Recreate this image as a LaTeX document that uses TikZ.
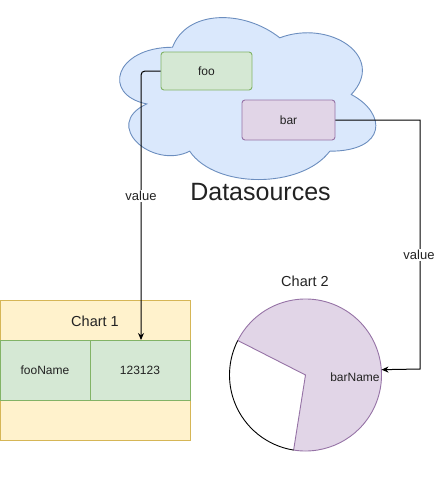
\documentclass[tikz,border=0pt]{standalone}
\usepackage{fontspec}
\setmainfont{Liberation Sans}
\usetikzlibrary{arrows.meta}
\definecolor{cloudfill}{HTML}{DAE8FC}
\definecolor{cloudline}{HTML}{6C8EBF}
\definecolor{gfill}{HTML}{D5E8D4}
\definecolor{gline}{HTML}{82B366}
\definecolor{pfill}{HTML}{E1D5E7}
\definecolor{pline}{HTML}{9673A6}
\definecolor{yfill}{HTML}{FFF2CC}
\definecolor{yline}{HTML}{D6B656}
\definecolor{txt}{HTML}{222222}
\tikzset{
  gbox/.style={draw=gline, fill=gfill, rounded corners=3pt, line width=0.9pt, inner sep=0pt, font=\fontsize{12}{14}\selectfont, text=txt},
  pbox/.style={draw=pline, fill=pfill, rounded corners=3pt, line width=0.9pt, inner sep=0pt, font=\fontsize{12}{14}\selectfont, text=txt},
  cell/.style={draw=gline, fill=gfill, line width=0.9pt, inner sep=0pt, minimum height=60pt, font=\fontsize{12}{14}\selectfont, text=txt},
  lbl/.style={font=\fontsize{12}{14}\selectfont, text=txt, inner sep=1pt},
  conn/.style={line width=1pt, -{Stealth[length=7pt,width=6pt]}},
  edgelbl/.style={fill=white, font=\fontsize{13}{15}\selectfont, text=txt, inner sep=1pt},
}
\begin{document}
\begin{tikzpicture}[x=1pt,y=-1pt]
\useasboundingbox (0,0) rectangle (435,483);
% cloud
\draw[fill=cloudfill, draw=cloudline, line width=0.9pt]
  (172.5,47.25)
  .. controls (115.3,47.25) and (101,94.5) .. (146.76,103.95)
  .. controls (101,124.74) and (152.48,170.1) .. (189.66,151.2)
  .. controls (215.4,189) and (301.2,189) .. (329.8,151.2)
  .. controls (387,151.2) and (387,113.4) .. (351.25,94.5)
  .. controls (387,56.7) and (329.8,18.9) .. (279.75,37.8)
  .. controls (244,9.45) and (186.8,9.45) .. (172.5,47.25) -- cycle;
\node[font=\fontsize{25}{28}\selectfont, text=txt] (ds) at (260.5,192) {Datasources};
\node[gbox, minimum width=91pt, minimum height=38pt] (foo) at (206.5,71) {foo};
\node[pbox, minimum width=93pt, minimum height=40pt] (bar) at (288.5,120) {bar};
% Chart 1
\node[draw=yline, fill=yfill, line width=0.9pt, minimum width=190pt, minimum height=140pt, inner sep=0pt] (chart1) at (95,370.5) {};
\node[font=\fontsize{14.5}{16}\selectfont, text=txt] (c1title) at (95,321) {Chart 1};
\node[cell, minimum width=90pt] (fooname) at (45,370.5) {fooName};
\node[cell, minimum width=100pt] (val) at (140,370.5) {123123};
% Chart 2
\node[circle, minimum size=152pt, inner sep=0pt] (pie) at (305.5,375) {};
\fill[pfill] (pie.center) -- ++(-153:76) arc[start angle=-153, end angle=99, radius=76] -- cycle;
\draw[pline, line width=0.9pt] (pie.center) ++(99:76) -- (pie.center) -- ++(-153:76) arc[start angle=-153, end angle=99, radius=76];
\draw[black, line width=0.9pt] (pie.center) ++(99:76) arc[start angle=99, end angle=207, radius=76];
\node[font=\fontsize{14.5}{16}\selectfont, text=txt] (c2title) at (305,281) {Chart 2};
\node[lbl] (barname) at (355,377) {barName};
% connectors
\draw[conn, rounded corners=4pt] (foo.west) -- (141,71) -- (141,340);
\node[edgelbl] (v1) at (141,196) {value};
\draw[conn] (bar.east) -- (420,120) -- (420,369) -- (pie.4.5);
\node[edgelbl] (v2) at (419,255) {value};
\end{tikzpicture}
\end{document}
